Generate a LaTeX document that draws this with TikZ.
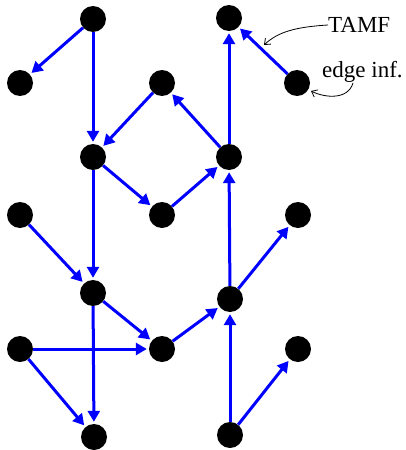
\documentclass[tikz,border=0pt]{standalone}
\usepackage{fontspec}
\setmainfont{Liberation Serif}
\usetikzlibrary{arrows.meta}
\begin{document}
\begin{tikzpicture}[x=1pt,y=-1pt,
  dot/.style={circle,fill=black,minimum size=26pt,inner sep=0pt},
  arc/.style={draw=blue,line width=3pt,-{Triangle[length=11pt,width=12pt]},shorten >=2pt},
  note/.style={font=\fontsize{23}{27}\selectfont,inner sep=0pt},
  pointer/.style={draw=black,line width=0.8pt,-{Straight Barb[length=5pt,width=8pt]}}]
\useasboundingbox (0,0) rectangle (406,450);
% vertices
\node[dot] (a) at (93,19) {};
\node[dot] (b) at (229,18) {};
\node[dot] (c) at (20,83) {};
\node[dot] (d) at (162,83) {};
\node[dot] (e) at (297,83) {};
\node[dot] (f) at (93,157) {};
\node[dot] (g) at (229,157) {};
\node[dot] (h) at (20,215) {};
\node[dot] (i) at (162,215) {};
\node[dot] (j) at (298,215) {};
\node[dot] (k) at (93,293) {};
\node[dot] (l) at (230,299) {};
\node[dot] (m) at (20,349) {};
\node[dot] (n) at (162,349) {};
\node[dot] (o) at (298,349) {};
\node[dot] (p) at (94,437) {};
\node[dot] (q) at (230,435) {};
% directed edges
\draw[arc] (a) -- (c);
\draw[arc] (a) -- (f);
\draw[arc] (d) -- (f);
\draw[arc] (e) -- (b);
\draw[arc] (f) -- (i);
\draw[arc] (i) -- (g);
\draw[arc] (g) -- (d);
\draw[arc] (g) -- (b);
\draw[arc] (f) -- (k);
\draw[arc] (h) -- (k);
\draw[arc] (k) -- (n);
\draw[arc] (k) -- (p);
\draw[arc] (n) -- (l);
\draw[arc] (l) -- (g);
\draw[arc] (l) -- (j);
\draw[arc] (m) -- (n);
\draw[arc] (m) -- (p);
\draw[arc] (q) -- (l);
\draw[arc] (q) -- (o);
% annotations
\node[note,anchor=west] (tamf) at (328,25) {TAMF};
\node[note,anchor=west] (inf) at (322,72) {edge inf.};
\coordinate (onedge) at (264,45);
\coordinate (onvertex) at (311,91);
\draw[pointer] (tamf.west) .. controls (295,27) and (278,32) .. (onedge);
\draw[pointer] (353,83) .. controls (348,100) and (325,98) .. (onvertex);
\end{tikzpicture}
\end{document}
